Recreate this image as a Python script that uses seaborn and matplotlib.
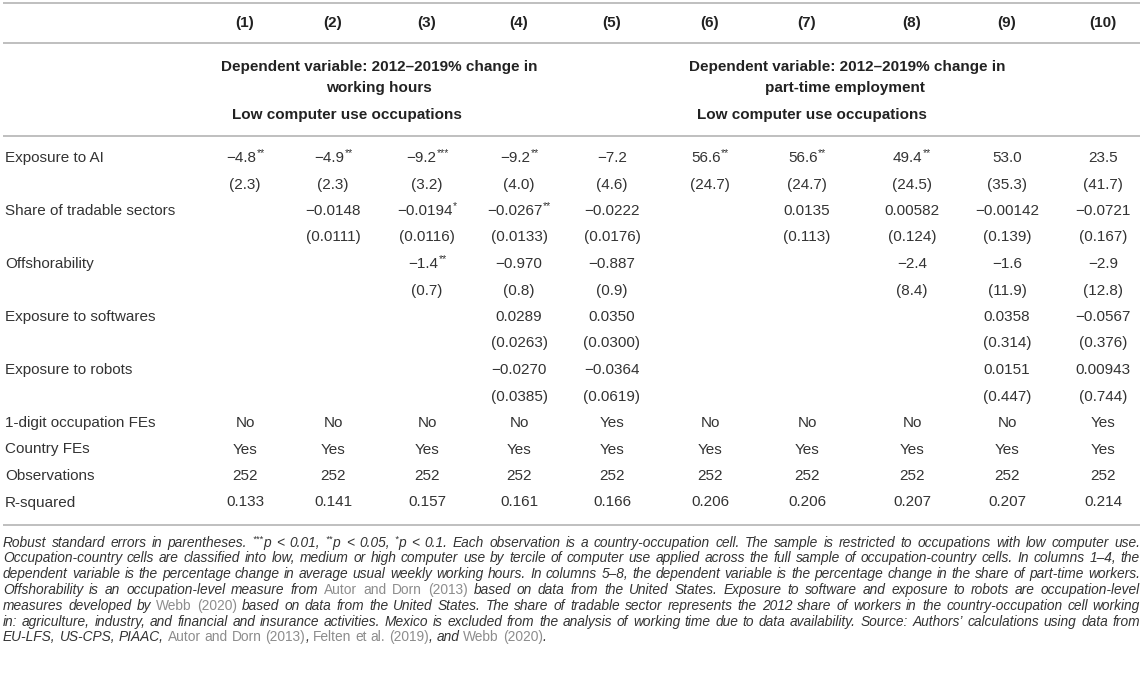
import matplotlib
matplotlib.use("Agg")
import matplotlib.pyplot as plt
import seaborn as sns

# Datos de la tabla
columnas = ["(1)", "(2)", "(3)", "(4)", "(5)", "(6)", "(7)", "(8)", "(9)", "(10)"]
variables = ["Exposure to AI", "Share of tradable sectors", "Offshorability",
             "Exposure to softwares", "Exposure to robots"]

ai_coef = ["−4.8", "−4.9", "−9.2", "−9.2", "−7.2", "56.6", "56.6", "49.4", "53.0", "23.5"]
ai_star = ["**", "**", "***", "**", "", "**", "**", "**", "", ""]
ai_se = ["2.3", "2.3", "3.2", "4.0", "4.6", "24.7", "24.7", "24.5", "35.3", "41.7"]

trade_coef = ["", "−0.0148", "−0.0194", "−0.0267", "−0.0222", "", "0.0135", "0.00582", "−0.00142", "−0.0721"]
trade_star = ["", "", "*", "**", "", "", "", "", "", ""]
trade_se = ["", "0.0111", "0.0116", "0.0133", "0.0176", "", "0.113", "0.124", "0.139", "0.167"]

off_coef = ["", "", "−1.4", "−0.970", "−0.887", "", "", "−2.4", "−1.6", "−2.9"]
off_star = ["", "", "**", "", "", "", "", "", "", ""]
off_se = ["", "", "0.7", "0.8", "0.9", "", "", "8.4", "11.9", "12.8"]

soft_coef = ["", "", "", "0.0289", "0.0350", "", "", "", "0.0358", "−0.0567"]
soft_star = [""] * 10
soft_se = ["", "", "", "0.0263", "0.0300", "", "", "", "0.314", "0.376"]

rob_coef = ["", "", "", "−0.0270", "−0.0364", "", "", "", "0.0151", "0.00943"]
rob_star = [""] * 10
rob_se = ["", "", "", "0.0385", "0.0619", "", "", "", "0.447", "0.744"]

filas_extra = ["1-digit occupation FEs", "Country FEs", "Observations", "R-squared"]
occ_fe = ["No", "No", "No", "No", "Yes", "No", "No", "No", "No", "Yes"]
country_fe = ["Yes"] * 10
observaciones = ["252"] * 10
r_cuadrado = ["0.133", "0.141", "0.157", "0.161", "0.166", "0.206", "0.206", "0.207", "0.207", "0.214"]

grupo1 = ["Dependent variable: 2012–2019% change in", "working hours", "Low computer use occupations"]
grupo2 = ["Dependent variable: 2012–2019% change in", "part-time employment", "Low computer use occupations"]

# n = normal, s = superindice, g = referencia gris
nota = [
    [("Robust standard errors in parentheses. ", "n"), ("***", "s"), ("p < 0.01, ", "n"), ("**", "s"),
     ("p < 0.05, ", "n"), ("*", "s"),
     ("p < 0.1. Each observation is a country-occupation cell. The sample is restricted to occupations with low computer use.", "n")],
    [("Occupation-country cells are classified into low, medium or high computer use by tercile of computer use applied across the full sample of occupation-country cells. In columns 1–4, the", "n")],
    [("dependent variable is the percentage change in average usual weekly working hours. In columns 5–8, the dependent variable is the percentage change in the share of part-time workers.", "n")],
    [("Offshorability is an occupation-level measure from ", "n"), ("Autor and Dorn (2013)", "g"),
     (" based on data from the United States. Exposure to software and exposure to robots are occupation-level", "n")],
    [("measures developed by ", "n"), ("Webb (2020)", "g"),
     (" based on data from the United States. The share of tradable sector represents the 2012 share of workers in the country-occupation cell working", "n")],
    [("in: agriculture, industry, and financial and insurance activities. Mexico is excluded from the analysis of working time due to data availability. Source: Authors’ calculations using data from", "n")],
    [("EU-LFS, US-CPS, PIAAC, ", "n"), ("Autor and Dorn (2013)", "g"), (", ", "n"), ("Felten et al. (2019)", "g"),
     (", and ", "n"), ("Webb (2020)", "g"), (".", "n")],
]

# Estilo
sns.set_theme(style="white")
plt.rcParams['font.family'] = ['Liberation Sans', 'DejaVu Sans']

W, H = 1143, 674
TXT = "#333333"
GRIS = "#8c8c8c"
LINEA = "#b4b4b4"
FS = 11

fig = plt.figure(figsize=(W / 100, H / 100), dpi=100)
ax = fig.add_axes([0, 0, 1, 1])
ax.set_xlim(0, W)
ax.set_ylim(H, 0)
ax.axis("off")
r = fig.canvas.get_renderer()


def ancho(txt, **kw):
    t = ax.text(0, 0, txt, **kw)
    w = t.get_window_extent(renderer=r).width
    t.remove()
    return w


def celda(x, y, valor, estrellas=""):
    if valor == "":
        return
    w1 = ancho(valor, fontsize=FS)
    w2 = ancho(estrellas, fontsize=7.5) if estrellas else 0
    x0 = x - (w1 + w2) / 2
    ax.text(x0, y, valor, fontsize=FS, ha="left", va="center", color=TXT)
    if estrellas:
        ax.text(x0 + w1 + 0.5, y - 4.5, estrellas, fontsize=7.5, ha="left", va="center", color=TXT)


x_col = [245, 333, 427, 519, 612, 710, 807, 912, 1007, 1103]
x_lab = 5

# Lineas horizontales
for yl in [3, 43, 136, 525]:
    ax.plot([3, 1140], [yl, yl], color=LINEA, lw=1.2, solid_capstyle="butt")

# Encabezado
for x, c in zip(x_col, columnas):
    ax.text(x, 23, c, fontsize=FS, fontweight="bold", ha="center", va="center", color="#222222")

for g, xc in [(grupo1, (379, 379, 347)), (grupo2, (847, 845, 812))]:
    for txt, x, y in zip(g, xc, [67, 88, 115]):
        ax.text(x, y, txt, fontsize=FS, fontweight="bold", ha="center", va="center", color="#222222")

# Cuerpo
bloques = [(ai_coef, ai_star, ai_se), (trade_coef, trade_star, trade_se), (off_coef, off_star, off_se),
           (soft_coef, soft_star, soft_se), (rob_coef, rob_star, rob_se)]
paso = 26.5
y = 158
for nombre, (coef, star, se) in zip(variables, bloques):
    ax.text(x_lab, y, nombre, fontsize=FS, ha="left", va="center", color=TXT)
    for x, c, s, e in zip(x_col, coef, star, se):
        celda(x, y, c, s)
        celda(x, y + paso, "(" + e + ")" if e else "")
    y += 2 * paso

for nombre, vals in zip(filas_extra, [occ_fe, country_fe, observaciones, r_cuadrado]):
    ax.text(x_lab, y, nombre, fontsize=FS, ha="left", va="center", color=TXT)
    for x, v in zip(x_col, vals):
        celda(x, y, v)
    y += paso

# Nota al pie justificada
izq, der = 3, 1140


def estilos(fs):
    return {
        "n": dict(fontsize=fs, style="italic", color=TXT),
        "g": dict(fontsize=fs, style="normal", color=GRIS),
        "s": dict(fontsize=fs * 0.68, style="italic", color=TXT),
    }


def partir(linea):
    palabras = [[]]
    for txt, k in linea:
        partes = txt.split(" ")
        for j, p in enumerate(partes):
            if j > 0:
                palabras.append([])
            if p:
                palabras[-1].append((p, k))
    return [p for p in palabras if p]


def medir(fs):
    est = estilos(fs)
    esp = ancho("a b", **est["n"]) - ancho("ab", **est["n"])
    res = []
    for linea in nota:
        palabras = partir(linea)
        medidas = [[ancho(t, **est[k]) for t, k in p] for p in palabras]
        res.append((palabras, medidas))
    return esp, res


# tamaño de letra ajustado para que la linea mas larga llene el ancho
esp, res = medir(10)
natural = [sum(sum(m) for m in med) + esp * (len(pal) - 1) for pal, med in res[:-1]]
fs_nota = 10 * (der - izq) / max(natural) * 0.995
esp, res = medir(fs_nota)
est = estilos(fs_nota)

y_nota = [543, 558, 574, 590, 606, 622, 637]
for i, ((palabras, medidas), yn) in enumerate(zip(res, y_nota)):
    total = sum(sum(m) for m in medidas)
    if i < len(nota) - 1:
        hueco = (der - izq - total) / (len(palabras) - 1)
    else:
        hueco = esp
    x = izq
    for p, m in zip(palabras, medidas):
        for (t, k), w in zip(p, m):
            dy = -3.5 if k == "s" else 0
            ax.text(x, yn + dy, t, ha="left", va="center", **est[k])
            x += w
        x += hueco

fig.savefig("out.png", dpi=100)
